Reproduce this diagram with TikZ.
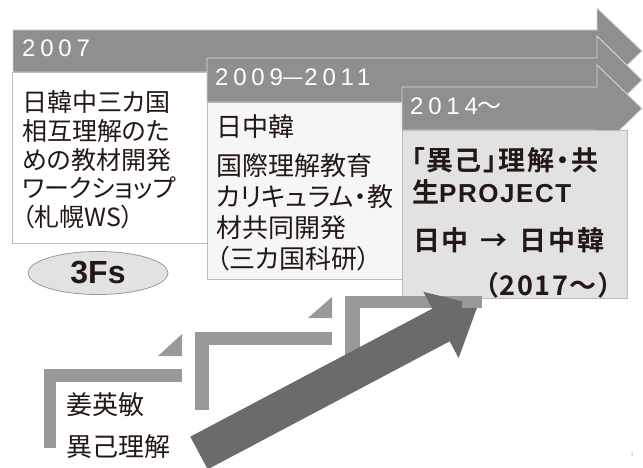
\documentclass[tikz,border=0pt]{standalone}
\usepackage{fontspec}
\usetikzlibrary{shapes.geometric}
\newfontfamily\jp{Noto Sans CJK JP}[RawFeature={+palt},BoldFont={Noto Sans CJK JP Bold}]
\newfontfamily\jpwide{Noto Sans CJK JP}[RawFeature={+palt},LetterSpace=6,BoldFont={Noto Sans CJK JP Bold}]
\newfontfamily\jpfull{Noto Sans CJK JP}[BoldFont={Noto Sans CJK JP Bold}]
\newfontfamily\lat{Liberation Sans}
\newfontfamily\latwide{Liberation Sans}[LetterSpace=6]
\newfontfamily\yearfont{Liberation Sans}[LetterSpace=20]
\definecolor{banner}{HTML}{8F8F8F}
\definecolor{bannerline}{HTML}{D6D6D6}
\definecolor{boxline}{HTML}{BDBDBD}
\definecolor{boxtwo}{HTML}{F6F6F6}
\definecolor{boxthree}{HTML}{E2E2E2}
\definecolor{stepgray}{HTML}{999999}
\definecolor{bigarrow}{HTML}{6B6B6B}
\definecolor{textc}{HTML}{231815}
\tikzset{
  bannerarrow/.style={fill=banner, draw=bannerline, line width=0.9pt},
  yeartext/.style={anchor=west, inner sep=0pt, text=white, font=\yearfont\fontsize{24}{24}\selectfont},
  boxtxt/.style={anchor=west, inner sep=0pt, text=textc, font=\jp\fontsize{25}{25}\selectfont},
  boxtxtb/.style={anchor=west, inner sep=0pt, text=textc, font=\jp\fontsize{26}{26}\selectfont},
  boxtxtc/.style={anchor=west, inner sep=0pt, text=textc, font=\jpwide\bfseries\fontsize{27}{27}\selectfont},
  steppiece/.style={fill=stepgray, draw=none}
}
\begin{document}
\begin{tikzpicture}[x=1pt,y=-1pt]
\useasboundingbox (0,0) rectangle (643,468);
\fill[white] (0,0) rectangle (643,468);

% arrow 1 and box 1
\draw[bannerarrow] (13,30) -- (597,30) -- (597,8) -- (642,51) -- (597,94) -- (597,72) -- (13,72) -- cycle;
\node[yeartext] (y1) at (22,48) {2007};
\draw[draw=boxline, fill=white, line width=0.8pt] (12,72) rectangle (207,243);
\node[boxtxt] (a1) at (22,102) {日韓中三カ国};
\node[boxtxt] (a2) at (22,131) {相互理解のた};
\node[boxtxt] (a3) at (22,160) {めの教材開発};
\node[boxtxt] (a4) at (22,188) {ワークショップ};
\node[boxtxt] (a5) at (22,217) {（札幌WS）};

% ellipse
\node[ellipse, draw=stepgray, fill=boxthree, line width=0.8pt, minimum width=140pt, minimum height=43pt, inner sep=0pt] (fs) at (98,273) {};
\node[inner sep=0pt, text=textc, font=\lat\bfseries\fontsize{32}{32}\selectfont] (fst) at (98,273) {3Fs};

% arrow 2 and box 2
\draw[bannerarrow] (207,58) -- (597,58) -- (597,36) -- (642,80) -- (597,124) -- (597,102) -- (207,102) -- cycle;
\node[yeartext] (y2) at (215,77) {2009{\jpfull —}2011};
\draw[draw=boxline, fill=boxtwo, line width=0.8pt] (207,102) rectangle (402,279);
\node[boxtxtb] (b1) at (216,127) {日中韓};
\node[boxtxtb] (b2) at (216,166) {国際理解教育};
\node[boxtxtb] (b3) at (216,197) {カリキュラム・教};
\node[boxtxtb] (b4) at (216,228) {材共同開発};
\node[boxtxtb] (b5) at (216,259) {（三カ国科研）};

% arrow 3 and box 3
\draw[bannerarrow] (402,87) -- (597,87) -- (597,65) -- (642,108.5) -- (597,152) -- (597,130) -- (402,130) -- cycle;
\node[yeartext] (y3) at (410,106) {2014{\jpfull ～}};
\draw[draw=boxline, fill=boxthree, line width=0.8pt] (402,130) rectangle (627,298);
\node[boxtxtc] (c1) at (411,160) {「異己」理解・共};
\node[boxtxtc] (c2) at (412,192) {生{\latwide\bfseries\fontsize{26}{26}\selectfont PROJECT}};
\node[boxtxtc] (c3) at (413,240) {日中\hspace{12pt}→\hspace{12pt}日中韓};
\node[boxtxtc, anchor=east] (c4) at (612,285) {（2017～）};

% step shapes
\fill[steppiece] (44,369) rectangle (56,448);
\fill[steppiece] (44,369) rectangle (182,382);
\fill[steppiece] (158,356) -- (182,334) -- (182,356) -- cycle;
\fill[steppiece] (195,332) rectangle (209,410);
\fill[steppiece] (195,332) rectangle (332,345);
\fill[steppiece] (308,318) -- (332,297) -- (332,318) -- cycle;
\fill[steppiece] (345,296) rectangle (360,375);
\fill[steppiece] (345,296) rectangle (482,308);

% big arrow
\fill[bigarrow] (190.3,436.7) -- (432.3,308.7) -- (423.4,291.9) -- (478,305) -- (458.6,358.1) -- (449.7,341.3) -- (207.7,469.3) -- cycle;
\fill[steppiece] (462,296) rectangle (482,308);

% bottom labels
\node[boxtxtb] (k1) at (66,405) {姜英敏};
\node[boxtxtb] (k2) at (66,447) {異己理解};
\node[inner sep=0pt, text=gray!60, font=\lat\fontsize{5}{5}\selectfont] (pg) at (632,455) {3};
\end{tikzpicture}
\end{document}
